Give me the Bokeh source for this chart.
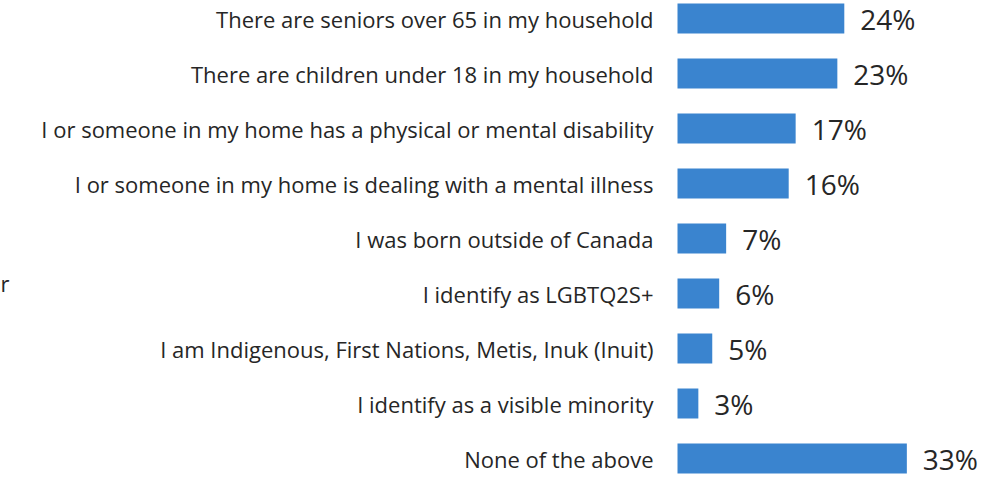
from bokeh.plotting import figure
from bokeh.models import Range1d, ColumnDataSource
from bokeh.embed import file_html
from bokeh.resources import INLINE
from bokeh.core.properties import value

categories = [
    "There are seniors over 65 in my household",
    "There are children under 18 in my household",
    "I or someone in my home has a physical or mental disability",
    "I or someone in my home is dealing with a mental illness",
    "I was born outside of Canada",
    "I identify as LGBTQ2S+",
    "I am Indigenous, First Nations, Metis, Inuk (Inuit)",
    "I identify as a visible minority",
    "None of the above",
]
values = [24, 23, 17, 16, 7, 6, 5, 3, 33]
labels = ["24%", "23%", "17%", "16%", "7%", "6%", "5%", "3%", "33%"]
stray_text = "r"

W, H = 981, 478
px_per_pct = 6.95
zero_px = 677
row_px = 55
first_center_px = 18
bar_px = 30

x_start = -zero_px / px_per_pct
x_end = (W - zero_px) / px_per_pct
n = len(categories)
top_pad = first_center_px / row_px
bottom_pad = (H - first_center_px - (n - 1) * row_px) / row_px

idx = list(range(n))
src = ColumnDataSource(dict(y=idx, v=values, cat=categories, lab=labels, zero=[0] * n))

p = figure(width=W, height=H, output_backend="svg", toolbar_location=None,
           x_range=Range1d(x_start, x_end),
           y_range=Range1d(n - 1 + bottom_pad, -top_pad),
           min_border=0, min_border_left=0, min_border_right=0,
           min_border_top=0, min_border_bottom=0)
p.axis.visible = False
p.grid.visible = False
p.outline_line_color = None
p.background_fill_color = "white"
p.border_fill_color = "white"

p.hbar(y="y", left=0, right="v", height=bar_px / row_px, source=src,
       fill_color="#3A84CF", line_color=None)

p.text(x="v", y="y", text="lab", source=src, x_offset=16,
       text_align="left", text_baseline="middle",
       text_font=value("Open Sans"), text_font_size="28px", text_color="#262626")

p.text(x="zero", y="y", text="cat", source=src, x_offset=-24,
       text_align="right", text_baseline="middle",
       text_font=value("Open Sans"), text_font_size="22px", text_color="#262626")

p.text(x=[x_start], y=[4.8], text=[stray_text], x_offset=0,
       text_align="left", text_baseline="middle",
       text_font=value("Open Sans"), text_font_size="22px", text_color="#262626")

open("out.html", "w").write(file_html(p, INLINE))
